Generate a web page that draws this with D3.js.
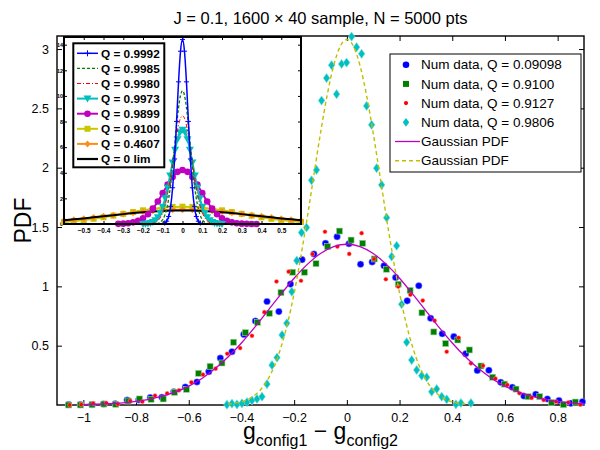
<!DOCTYPE html>
<html>
<head>
<meta charset="utf-8">
<script src="https://cdn.jsdelivr.net/npm/d3@7"></script>
<style>
  body { margin: 0; background: #fff; }
  text { font-family: "Liberation Sans", Arial, Helvetica, sans-serif; }
</style>
</head>
<body>
<div id="chart"></div>
<script>
// ---- main plot data ----
const blueX = [-1.056,-1.012,-0.967,-0.923,-0.879,-0.834,-0.790,-0.746,-0.702,-0.657,-0.613,-0.569,-0.524,-0.480,-0.436,-0.391,-0.347,-0.303,-0.258,-0.214,-0.170,-0.125,-0.081,-0.037,0.008,0.052,0.096,0.141,0.185,0.229,0.273,0.318,0.362,0.406,0.451,0.495,0.539,0.584,0.628,0.672,0.717,0.761,0.805,0.850,0.894];
const blueY = [0.003,0.003,0.003,0.008,0.011,0.042,0.042,0.062,0.065,0.112,0.152,0.194,0.281,0.395,0.449,0.595,0.708,0.872,0.787,1.019,1.225,1.273,1.363,1.418,1.359,1.186,1.205,1.173,1.074,0.878,1.005,0.731,0.600,0.576,0.432,0.291,0.293,0.191,0.149,0.076,0.090,0.051,0.038,0.014,0.028];

const greenX = [-1.056,-1.011,-0.967,-0.922,-0.877,-0.830,-0.787,-0.743,-0.697,-0.654,-0.609,-0.563,-0.519,-0.474,-0.430,-0.385,-0.339,-0.294,-0.250,-0.206,-0.161,-0.117,-0.073,-0.028,0.016,0.060,0.104,0.150,0.195,0.240,0.285,0.330,0.375,0.421,0.465,0.509,0.553,0.598,0.642,0.688,0.732,0.777,0.822,0.867];
const greenY = [0.0,0.0,0.003,0.008,0.006,0.034,0.051,0.048,0.051,0.107,0.132,0.267,0.326,0.354,0.529,0.610,0.697,0.773,0.947,1.119,1.119,1.191,1.335,1.466,1.390,1.363,1.231,1.144,1.018,0.966,0.777,0.616,0.518,0.548,0.464,0.329,0.234,0.176,0.134,0.070,0.070,0.021,0.003,0.025];

const redX = [-1.052,-1.008,-0.963,-0.913,-0.869,-0.822,-0.776,-0.728,-0.682,-0.637,-0.590,-0.546,-0.498,-0.454,-0.405,-0.360,-0.313,-0.267,-0.221,-0.174,-0.130,-0.083,-0.036,0.009,0.056,0.103,0.148,0.195,0.241,0.288,0.333,0.379,0.424,0.471,0.517,0.564,0.609,0.655,0.701,0.747,0.794,0.840,0.886];
const redY = [0.0,0.003,0.014,0.017,0.008,0.034,0.028,0.079,0.098,0.124,0.191,0.256,0.306,0.432,0.480,0.583,0.782,1.041,1.124,1.047,1.272,1.460,1.335,1.273,1.448,1.231,1.060,0.998,0.929,0.880,0.711,0.449,0.567,0.351,0.331,0.222,0.169,0.099,0.060,0.042,0.028,0.021,0.003];

const cyanX = [-0.455,-0.436,-0.417,-0.398,-0.379,-0.360,-0.341,-0.322,-0.303,-0.284,-0.265,-0.246,-0.228,-0.209,-0.190,-0.172,-0.153,-0.134,-0.115,-0.096,-0.077,-0.058,-0.039,-0.020,-0.001,0.018,0.037,0.056,0.075,0.094,0.113,0.132,0.151,0.170,0.189,0.208,0.227,0.246,0.265,0.284,0.303,0.322,0.341,0.360,0.379,0.414,0.433,0.471];
const cyanY = [0.003,0.012,0.005,0.014,0.024,0.038,0.051,0.070,0.176,0.336,0.400,0.590,0.689,0.955,1.217,1.453,1.496,1.894,1.981,2.566,2.755,2.864,2.620,2.874,2.886,3.105,3.016,2.960,2.521,2.361,1.996,1.855,1.579,1.251,1.342,0.849,0.529,0.379,0.295,0.247,0.234,0.112,0.135,0.070,0.048,0.006,0.017,0.017];

// gaussian fits drawn as lines
const wideX = [-1.0,-0.95,-0.9,-0.85,-0.8,-0.75,-0.7,-0.65,-0.6,-0.55,-0.5,-0.45,-0.4,-0.35,-0.3,-0.25,-0.2,-0.15,-0.1,-0.05,0,0.05,0.1,0.15,0.2,0.25,0.3,0.35,0.4,0.45,0.5,0.55,0.6,0.65,0.7,0.75,0.8,0.85,0.9];
const wideY = [0.0035,0.0063,0.011,0.0185,0.030,0.048,0.074,0.110,0.159,0.224,0.307,0.407,0.523,0.654,0.794,0.934,1.068,1.185,1.277,1.335,1.355,1.335,1.277,1.185,1.068,0.934,0.794,0.654,0.523,0.407,0.307,0.224,0.159,0.110,0.074,0.048,0.030,0.0185,0.011];

const narrowX = [-0.45,-0.425,-0.4,-0.375,-0.35,-0.325,-0.3,-0.275,-0.25,-0.225,-0.2,-0.175,-0.15,-0.125,-0.1,-0.075,-0.05,-0.025,0,0.025,0.05,0.075,0.1,0.125,0.15,0.175,0.2,0.225,0.25,0.275,0.3,0.325,0.35,0.375,0.4,0.425,0.45];
const narrowY = [0.008,0.015,0.027,0.048,0.082,0.135,0.215,0.329,0.485,0.689,0.943,1.245,1.583,1.940,2.291,2.608,2.860,3.024,3.08,3.024,2.860,2.608,2.291,1.940,1.583,1.245,0.943,0.689,0.485,0.329,0.215,0.135,0.082,0.048,0.027,0.015,0.008];

const xTicks = [-1,-0.8,-0.6,-0.4,-0.2,0,0.2,0.4,0.6,0.8];
const yTicks = [0.5,1,1.5,2,2.5,3];
const legendLabels = ["Num data, Q = 0.09098","Num data, Q = 0.9100","Num data, Q = 0.9127","Num data, Q = 0.9806","Gaussian PDF","Gaussian PDF"];

// ---- inset data ----
const q9992X = [-0.09,-0.08,-0.07,-0.06,-0.05,-0.04,-0.03,-0.02,-0.01,0,0.01,0.02,0.03,0.04,0.05,0.06,0.07,0.08,0.09];
const q9992Y = [0.07,0.22,0.59,1.38,2.83,5.08,8.01,11.10,13.49,14.4,13.49,11.10,8.01,5.08,2.83,1.38,0.59,0.22,0.07];
const q9985X = [-0.13,-0.12,-0.11,-0.1,-0.09,-0.08,-0.07,-0.06,-0.05,-0.04,-0.03,-0.02,-0.01,0,0.01,0.02,0.03,0.04,0.05,0.06,0.07,0.08,0.09,0.1,0.11,0.12,0.13];
const q9985Y = [0.03,0.08,0.17,0.35,0.67,1.19,1.97,3.07,4.46,6.04,7.67,9.08,10.05,10.4,10.05,9.08,7.67,6.04,4.46,3.07,1.97,1.19,0.67,0.35,0.17,0.08,0.03];
const q9980X = [-0.16,-0.14,-0.12,-0.1,-0.09,-0.08,-0.07,-0.06,-0.05,-0.04,-0.03,-0.02,-0.01,0,0.01,0.02,0.03,0.04,0.05,0.06,0.07,0.08,0.09,0.1,0.12,0.14,0.16];
const q9980Y = [0.03,0.10,0.33,0.90,1.37,2.01,2.81,3.77,4.82,5.90,6.90,7.72,8.26,8.45,8.26,7.72,6.90,5.90,4.82,3.77,2.81,2.01,1.37,0.90,0.33,0.10,0.03];
const q9973X = [-0.2,-0.1875,-0.175,-0.1625,-0.15,-0.1375,-0.125,-0.1125,-0.1,-0.0875,-0.075,-0.0625,-0.05,-0.0375,-0.025,-0.0125,0,0.0125,0.025,0.0375,0.05,0.0625,0.075,0.0875,0.1,0.1125,0.125,0.1375,0.15,0.1625,0.175,0.1875,0.2];
const q9973Y = [0.008,0.019,0.041,0.083,0.16,0.30,0.52,0.86,1.35,2.01,2.83,3.79,4.81,5.79,6.61,7.16,7.35,7.16,6.61,5.79,4.81,3.79,2.83,2.01,1.35,0.86,0.52,0.30,0.16,0.083,0.041,0.019,0.008];
const q9899X = [-0.325,-0.3,-0.275,-0.25,-0.225,-0.2,-0.175,-0.15,-0.125,-0.1,-0.075,-0.05,-0.025,0,0.025,0.05,0.075,0.1,0.125,0.15,0.175,0.2,0.225,0.25,0.275,0.3,0.325,0.35,0.375];
const q9899Y = [0.011,0.027,0.061,0.13,0.25,0.45,0.76,1.20,1.76,2.41,3.08,3.67,4.07,4.22,4.07,3.67,3.08,2.41,1.76,1.20,0.76,0.45,0.25,0.13,0.061,0.027,0.011,0.004,0.002];
const broadX = [-0.6,-0.55,-0.5,-0.45,-0.4,-0.35,-0.3,-0.25,-0.2,-0.15,-0.1,-0.05,0,0.05,0.1,0.15,0.2,0.25,0.3,0.35,0.4,0.45,0.5,0.55,0.6];
const q9100Y = [0.159,0.224,0.307,0.407,0.523,0.654,0.794,0.934,1.068,1.185,1.277,1.335,1.355,1.335,1.277,1.185,1.068,0.934,0.794,0.654,0.523,0.407,0.307,0.224,0.159];
const q4607Y = [0.271,0.340,0.418,0.504,0.596,0.691,0.785,0.875,0.956,1.025,1.077,1.109,1.12,1.109,1.077,1.025,0.956,0.875,0.785,0.691,0.596,0.504,0.418,0.340,0.271];
const qLimY = [0.296,0.364,0.438,0.518,0.602,0.688,0.771,0.850,0.920,0.979,1.023,1.051,1.06,1.051,1.023,0.979,0.920,0.850,0.771,0.688,0.602,0.518,0.438,0.364,0.296];
const insetXTicks = [-0.5,-0.4,-0.3,-0.2,-0.1,0,0.1,0.2,0.3,0.4,0.5];
const insetYTicks = [0,2,4,6,8,10,12,14];
const insetLabels = ["Q = 0.9992","Q = 0.9985","Q = 0.9980","Q = 0.9973","Q = 0.9899","Q = 0.9100","Q = 0.4607","Q = 0 lim"];

const W = 600, H = 450;
const box = {left: 57, right: 584, top: 36, bottom: 405};

const svg = d3.select("#chart").append("svg")
    .attr("width", W).attr("height", H)
    .style("background", "#fff");

const x = d3.scaleLinear().domain([-1.1, 0.9]).range([box.left, box.right]);
const y = d3.scaleLinear().domain([0, 3.11]).range([box.bottom, box.top]);

const zip = (xs, ys) => xs.map((v, i) => [v, ys[i]]);

// axes (MATLAB style: ticks inside, on all four sides)
const tl = 5;
svg.append("g")
    .attr("transform", `translate(0,${box.bottom})`)
    .call(d3.axisBottom(x).tickValues(xTicks).tickSize(-tl).tickPadding(8).tickFormat(d3.format("")))
    .call(g => g.select(".domain").remove())
    .call(g => g.selectAll("text").attr("font-size", 12.5).attr("font-family", "Liberation Sans, Arial").attr("fill", "#000"))
    .call(g => g.selectAll("line").attr("stroke", "#000"));
svg.append("g")
    .attr("transform", `translate(0,${box.top})`)
    .call(d3.axisTop(x).tickValues(xTicks).tickSize(-tl).tickFormat(""))
    .call(g => g.select(".domain").remove())
    .call(g => g.selectAll("line").attr("stroke", "#000"));
svg.append("g")
    .attr("transform", `translate(${box.left},0)`)
    .call(d3.axisLeft(y).tickValues(yTicks).tickSize(-tl).tickPadding(8).tickFormat(d3.format("")))
    .call(g => g.select(".domain").remove())
    .call(g => g.selectAll("text").attr("font-size", 12.5).attr("font-family", "Liberation Sans, Arial").attr("fill", "#000"))
    .call(g => g.selectAll("line").attr("stroke", "#000"));
svg.append("g")
    .attr("transform", `translate(${box.right},0)`)
    .call(d3.axisRight(y).tickValues(yTicks).tickSize(-tl).tickFormat(""))
    .call(g => g.select(".domain").remove())
    .call(g => g.selectAll("line").attr("stroke", "#000"));

svg.append("rect")
    .attr("x", box.left).attr("y", box.top)
    .attr("width", box.right - box.left).attr("height", box.bottom - box.top)
    .attr("fill", "none").attr("stroke", "#000").attr("stroke-width", 1.4);

// scatter series
const plot = svg.append("g");
const diamond = (cx, cy, w, h) => `M${cx},${cy - h}L${cx + w},${cy}L${cx},${cy + h}L${cx - w},${cy}Z`;

plot.selectAll(".blue").data(zip(blueX, blueY)).join("circle")
    .attr("cx", d => x(d[0])).attr("cy", d => y(d[1])).attr("r", 3.3)
    .attr("fill", "#0000ff").attr("stroke", "#9f9fff").attr("stroke-width", 0.5);
plot.selectAll(".green").data(zip(greenX, greenY)).join("rect")
    .attr("x", d => x(d[0]) - 3).attr("y", d => y(d[1]) - 3)
    .attr("width", 6).attr("height", 6)
    .attr("fill", "#008000").attr("stroke", "#9fd39f").attr("stroke-width", 0.6);
plot.selectAll(".red").data(zip(redX, redY)).join("circle")
    .attr("cx", d => x(d[0])).attr("cy", d => y(d[1])).attr("r", 2.1)
    .attr("fill", "#ff0000").attr("stroke", "#ffa0a0").attr("stroke-width", 0.5);
plot.selectAll(".cyan").data(zip(cyanX, cyanY)).join("path")
    .attr("d", d => diamond(x(d[0]), y(d[1]), 3.3, 4.6))
    .attr("fill", "#00bfbf").attr("stroke", "#7fdfdf").attr("stroke-width", 0.6);

const line = d3.line().x(d => x(d[0])).y(d => y(d[1])).curve(d3.curveMonotoneX);
svg.append("path").datum(zip(wideX, wideY))
    .attr("fill", "none").attr("stroke", "#bf00bf").attr("stroke-width", 1.3)
    .attr("d", line);
svg.append("path").datum(zip(narrowX, narrowY))
    .attr("fill", "none").attr("stroke", "#bfbf00").attr("stroke-width", 1.4)
    .attr("stroke-dasharray", "4,3")
    .attr("d", line);

// title and axis labels
svg.append("text")
    .attr("x", (box.left + box.right) / 2).attr("y", 24)
    .attr("text-anchor", "middle").attr("font-size", 16.5)
    .text("J = 0.1, 1600 \u00d7 40 sample, N = 5000 pts");

const xl = svg.append("text")
    .attr("x", (box.left + box.right) / 2).attr("y", 439)
    .attr("text-anchor", "middle").attr("font-size", 23);
xl.append("tspan").text("g");
xl.append("tspan").attr("font-size", 16).attr("dy", 7).text("config1");
xl.append("tspan").attr("dy", -7).text(" \u2212 g");
xl.append("tspan").attr("font-size", 16).attr("dy", 7).text("config2");

svg.append("text")
    .attr("transform", `translate(31,${(box.top + box.bottom) / 2}) rotate(-90)`)
    .attr("text-anchor", "middle").attr("font-size", 23)
    .text("PDF");

// main legend
const leg = svg.append("g");
leg.append("rect")
    .attr("x", 390).attr("y", 54).attr("width", 191).attr("height", 118)
    .attr("fill", "#fff").attr("stroke", "#000").attr("stroke-width", 1);
const legRow = i => 64.7 + i * 19.2;
leg.selectAll("text").data(legendLabels).join("text")
    .attr("x", 421).attr("y", (d, i) => legRow(i)).attr("dy", "0.35em")
    .attr("font-size", 13.5).text(d => d);
leg.append("circle").attr("cx", 406).attr("cy", legRow(0)).attr("r", 3.3).attr("fill", "#0000ff");
leg.append("rect").attr("x", 403).attr("y", legRow(1) - 3).attr("width", 6).attr("height", 6).attr("fill", "#008000");
leg.append("circle").attr("cx", 406).attr("cy", legRow(2)).attr("r", 2.1).attr("fill", "#ff0000");
leg.append("path").attr("d", diamond(406, legRow(3), 3.2, 4.4)).attr("fill", "#00bfbf");
leg.append("line").attr("x1", 395).attr("x2", 420).attr("y1", legRow(4)).attr("y2", legRow(4))
    .attr("stroke", "#bf00bf").attr("stroke-width", 1.3);
leg.append("line").attr("x1", 395).attr("x2", 420).attr("y1", legRow(5)).attr("y2", legRow(5))
    .attr("stroke", "#bfbf00").attr("stroke-width", 1.4).attr("stroke-dasharray", "4,3");

// ---- inset ----
const ib = {left: 64, right: 301, top: 37, bottom: 224};
const ix = d3.scaleLinear().domain([-0.6, 0.6]).range([ib.left, ib.right]);
const iy = d3.scaleLinear().domain([0, 14.6]).range([ib.bottom, ib.top]);
const inset = svg.append("g");
inset.append("rect")
    .attr("x", ib.left).attr("y", ib.top).attr("width", ib.right - ib.left).attr("height", ib.bottom - ib.top)
    .attr("fill", "#fff");

const itl = 3;
inset.append("g").attr("transform", `translate(0,${ib.bottom})`)
    .call(d3.axisBottom(ix).tickValues(insetXTicks).tickSize(-itl).tickPadding(4).tickFormat(d3.format("")))
    .call(g => g.select(".domain").remove())
    .call(g => g.selectAll("text").attr("font-size", 6.5).attr("font-weight", "bold").attr("font-family", "Liberation Sans, Arial").attr("fill", "#000"))
    .call(g => g.selectAll("line").attr("stroke", "#000"));
inset.append("g").attr("transform", `translate(0,${ib.top})`)
    .call(d3.axisTop(ix).tickValues(insetXTicks).tickSize(-itl).tickFormat(""))
    .call(g => g.select(".domain").remove())
    .call(g => g.selectAll("line").attr("stroke", "#000"));
inset.append("g").attr("transform", `translate(${ib.left},0)`)
    .call(d3.axisLeft(iy).tickValues(insetYTicks).tickSize(-itl).tickPadding(1).tickFormat(d3.format("")))
    .call(g => g.select(".domain").remove())
    .call(g => g.selectAll("text").attr("font-size", 5.5).attr("font-weight", "bold").attr("font-family", "Liberation Sans, Arial").attr("fill", "#000"))
    .call(g => g.selectAll("line").attr("stroke", "#000"));
inset.append("g").attr("transform", `translate(${ib.right},0)`)
    .call(d3.axisRight(iy).tickValues(insetYTicks).tickSize(-itl).tickFormat(""))
    .call(g => g.select(".domain").remove())
    .call(g => g.selectAll("line").attr("stroke", "#000"));

const iline = d3.line().x(d => ix(d[0])).y(d => iy(d[1])).curve(d3.curveMonotoneX);
const curves = inset.append("g");

// broad curves first, narrow on top
const drawCurve = (xs, ys, color, width, dash) => curves.append("path").datum(zip(xs, ys))
    .attr("fill", "none").attr("stroke", color).attr("stroke-width", width)
    .attr("stroke-dasharray", dash || null).attr("d", iline);

drawCurve(broadX, q9100Y, "#c8c800", 2);
curves.selectAll(".sq").data(zip(broadX, q9100Y)).join("rect")
    .attr("x", d => ix(d[0]) - 3).attr("y", d => iy(d[1]) - 3).attr("width", 6).attr("height", 6)
    .attr("fill", "#c8c800");
drawCurve(broadX, q4607Y, "#ff8c1a", 2);
curves.selectAll(".dm").data(zip(broadX, q4607Y)).join("path")
    .attr("d", d => diamond(ix(d[0]), iy(d[1]), 3, 3.5)).attr("fill", "#ff8c1a");
drawCurve(broadX, qLimY, "#000", 2);

drawCurve(q9899X, q9899Y, "#bf00bf", 2);
curves.selectAll(".mc").data(zip(q9899X, q9899Y)).join("circle")
    .attr("cx", d => ix(d[0])).attr("cy", d => iy(d[1])).attr("r", 3.3).attr("fill", "#bf00bf");

drawCurve(q9973X, q9973Y, "#00bfbf", 2);
curves.selectAll(".tri").data(zip(q9973X, q9973Y)).join("path")
    .attr("d", d => { const cx = ix(d[0]), cy = iy(d[1]); return `M${cx - 4},${cy - 3}L${cx + 4},${cy - 3}L${cx},${cy + 4}Z`; })
    .attr("fill", "#00bfbf");

drawCurve(q9980X, q9980Y, "#ff0000", 1, "4,2,1,2");
drawCurve(q9985X, q9985Y, "#008000", 1.3, "3,2");
drawCurve(q9992X, q9992Y, "#0000ff", 1.5);
curves.selectAll(".pl").data(zip(q9992X, q9992Y)).join("path")
    .attr("d", d => { const cx = ix(d[0]), cy = iy(d[1]); return `M${cx - 2.5},${cy}H${cx + 2.5}M${cx},${cy - 2.5}V${cy + 2.5}`; })
    .attr("stroke", "#0000ff").attr("stroke-width", 1);

inset.append("rect")
    .attr("x", ib.left).attr("y", ib.top).attr("width", ib.right - ib.left).attr("height", ib.bottom - ib.top)
    .attr("fill", "none").attr("stroke", "#000").attr("stroke-width", 2);

// inset legend
const il = inset.append("g");
il.append("rect").attr("x", 73.3).attr("y", 43.3).attr("width", 91).attr("height", 124)
    .attr("fill", "#fff").attr("stroke", "#000").attr("stroke-width", 2);
const ilRow = i => 53.3 + i * 15.1;
const ilStyle = [
  {c: "#0000ff", w: 1.5, dash: null, m: "plus"},
  {c: "#008000", w: 1.3, dash: "3,2", m: null},
  {c: "#ff0000", w: 1, dash: "4,2,1,2", m: null},
  {c: "#00bfbf", w: 2, dash: null, m: "tri"},
  {c: "#bf00bf", w: 2, dash: null, m: "circle"},
  {c: "#c8c800", w: 2, dash: null, m: "square"},
  {c: "#ff8c1a", w: 2, dash: null, m: "diamond"},
  {c: "#000", w: 2.2, dash: null, m: null}
];
ilStyle.forEach((s, i) => {
  const cy = ilRow(i), cx = 87.5;
  il.append("line").attr("x1", 77).attr("x2", 98).attr("y1", cy).attr("y2", cy)
      .attr("stroke", s.c).attr("stroke-width", s.w).attr("stroke-dasharray", s.dash);
  if (s.m === "plus") il.append("path").attr("d", `M${cx - 3},${cy}H${cx + 3}M${cx},${cy - 3}V${cy + 3}`).attr("stroke", s.c).attr("stroke-width", 1);
  if (s.m === "tri") il.append("path").attr("d", `M${cx - 4},${cy - 3}L${cx + 4},${cy - 3}L${cx},${cy + 4}Z`).attr("fill", s.c);
  if (s.m === "circle") il.append("circle").attr("cx", cx).attr("cy", cy).attr("r", 3.3).attr("fill", s.c);
  if (s.m === "square") il.append("rect").attr("x", cx - 3).attr("y", cy - 3).attr("width", 6).attr("height", 6).attr("fill", s.c);
  if (s.m === "diamond") il.append("path").attr("d", diamond(cx, cy, 3, 3.5)).attr("fill", s.c);
});
il.selectAll("text").data(insetLabels).join("text")
    .attr("x", 101).attr("y", (d, i) => ilRow(i)).attr("dy", "0.36em")
    .attr("font-size", 11.8).attr("font-weight", "bold").text(d => d);
</script>
</body>
</html>
